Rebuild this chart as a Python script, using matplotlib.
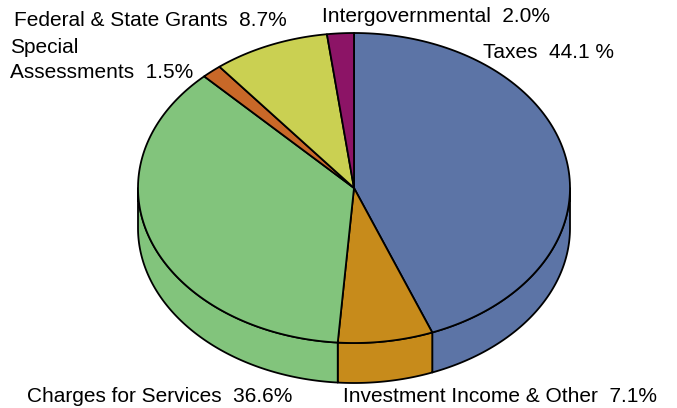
import numpy as np
import matplotlib
matplotlib.use('Agg')
import matplotlib.pyplot as plt
from matplotlib.patches import Polygon

plt.rcParams['font.family'] = ['Liberation Sans', 'DejaVu Sans']

# revenue shares, clockwise from 12 o'clock
labels = ['Taxes  {:.1f} %',
          'Investment Income & Other  {:.1f}%',
          'Charges for Services  {:.1f}%',
          'Special\nAssessments  {:.1f}%',
          'Federal & State Grants  {:.1f}%',
          'Intergovernmental  {:.1f}%']
values = [44.1, 7.1, 36.6, 1.5, 8.7, 2.0]
colors = ['#5C74A6', '#C78B1B', '#82C47C', '#C86828', '#CAD052', '#8C1466']

# label anchors (left, center) in pixels
label_pos = [(483, 52), (343, 396), (27, 396), (10, 60), (14, 20), (322, 17)]

W, H = 677, 408
fig = plt.figure(figsize=(W / 100, H / 100), dpi=100)
ax = fig.add_axes([0, 0, 1, 1])
ax.set_xlim(0, W)
ax.set_ylim(H, 0)
ax.axis('off')

cx, cy = 354, 188
rx, ry = 216, 155
depth = 40
lw = 1.3


def arc(a1, a2, dy=0, n=120):
    t = np.radians(np.linspace(a1, a2, n))
    return np.column_stack([cx + rx * np.cos(t), cy - ry * np.sin(t) + dy])


fracs = np.array(values) / sum(values)
ends = 90 - np.cumsum(fracs) * 360
starts = np.concatenate([[90], ends[:-1]])

# side walls (only the front half, -180..0 deg, is visible)
for a_hi, a_lo, c in zip(starts, ends, colors):
    lo = max(a_lo, -180)
    hi = min(a_hi, 0)
    if hi <= lo:
        continue
    top = arc(lo, hi)
    bot = arc(hi, lo, dy=depth)
    ax.add_patch(Polygon(np.vstack([top, bot]), closed=True, facecolor=c,
                         edgecolor='black', lw=lw, joinstyle='round'))

# top face
for a_hi, a_lo, c in zip(starts, ends, colors):
    pts = np.vstack([[cx, cy], arc(a_lo, a_hi)])
    ax.add_patch(Polygon(pts, closed=True, facecolor=c, edgecolor='black',
                         lw=lw, joinstyle='round'))

for lab, v, (x, y) in zip(labels, values, label_pos):
    ax.text(x, y, lab.format(v), ha='left', va='center', fontsize=15,
            linespacing=1.38, color='black')

fig.savefig('out.png', dpi=100)
